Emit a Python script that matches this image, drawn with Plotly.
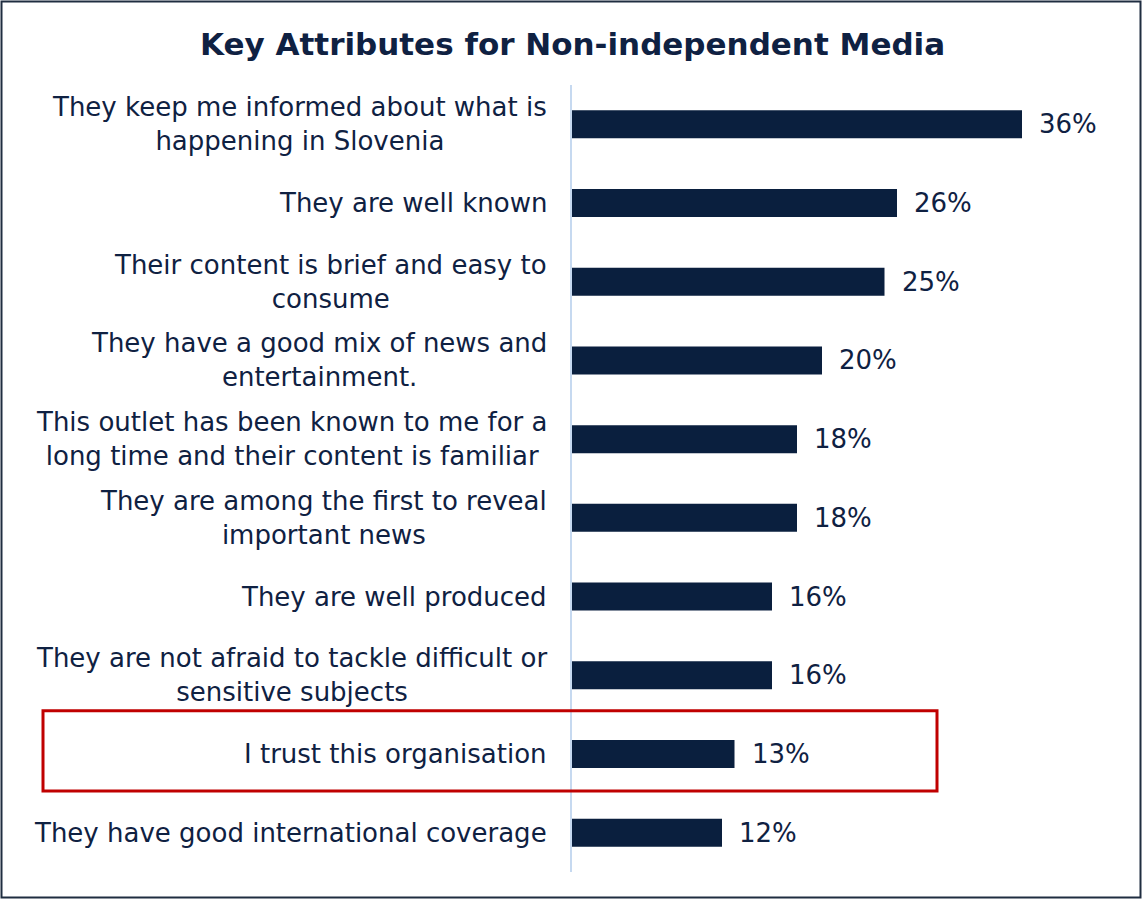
import plotly.graph_objects as go

# Survey attributes (top to bottom) and share of respondents (%)
attributes = [
    "They keep me informed about what is<br>happening in Slovenia",
    "They are well known",
    "Their content is brief and easy to<br>consume",
    "They have a good mix of news and<br>entertainment.",
    "This outlet has been known to me for a<br>long time and their content is familiar",
    "They are among the first to reveal<br>important news",
    "They are well produced",
    "They are not afraid to tackle difficult or<br>sensitive subjects",
    "I trust this organisation",
    "They have good international coverage",
]
shares = [36, 26, 25, 20, 18, 18, 16, 16, 13, 12]
highlighted = "I trust this organisation"

title_text = "Key Attributes for Non-independent Media"

NAVY = "#0a1f3e"
TEXT = "#0f2142"
AXIS = "#c6d9f0"
RED = "#c00000"
FONT = "DejaVu Sans"

W, H = 1142, 899
L, R, T, B = 572, 70, 85, 27
PW, PH = W - L - R, H - T - B


def px_x(px):
    return (px - L) / PW


def px_y(py):
    return (H - B - py) / PH


fig = go.Figure(
    go.Bar(
        x=shares,
        y=attributes,
        orientation="h",
        marker=dict(color=NAVY, line=dict(width=0)),
        hoverinfo="skip",
    )
)

annotations = []
for label, val in zip(attributes, shares):
    annotations.append(dict(
        x=0, y=label, xref="x", yref="y", text=label, showarrow=False,
        xanchor="right", yanchor="middle", align="center", xshift=-23,
        font=dict(family=FONT, size=26, color=TEXT),
    ))
    annotations.append(dict(
        x=val, y=label, xref="x", yref="y", text=f"{val}%", showarrow=False,
        xanchor="left", yanchor="middle", xshift=15,
        font=dict(family=FONT, size=26, color=TEXT),
    ))

annotations.append(dict(
    x=px_x(572), y=px_y(44), xref="paper", yref="paper", text=f"<b>{title_text}</b>",
    showarrow=False, xanchor="center", yanchor="middle",
    font=dict(family=FONT, size=31, color=TEXT),
))

hi = attributes.index(highlighted)
shapes = [
    # outer frame
    dict(type="rect", xref="paper", yref="paper",
         x0=px_x(1.5), x1=px_x(W - 1.5), y0=px_y(H - 1.5), y1=px_y(1.5),
         line=dict(color="#1f2d40", width=2), layer="above"),
    # highlight box
    dict(type="rect", xref="paper", yref="y",
         x0=px_x(43), x1=px_x(937), y0=hi - 0.55, y1=hi + 0.47,
         line=dict(color=RED, width=3), layer="above"),
]

fig.update_layout(
    width=W, height=H,
    margin=dict(l=L, r=R, t=T, b=B),
    paper_bgcolor="white", plot_bgcolor="white",
    bargap=0.644,
    showlegend=False,
    annotations=annotations,
    shapes=shapes,
    xaxis=dict(range=[0, 40], showgrid=False, zeroline=False,
               showticklabels=False, ticks="", showline=False),
    yaxis=dict(autorange="reversed", showgrid=False, zeroline=False,
               showticklabels=False, ticks="", showline=True,
               linecolor=AXIS, linewidth=1.5),
)

fig.write_html("out.html")
